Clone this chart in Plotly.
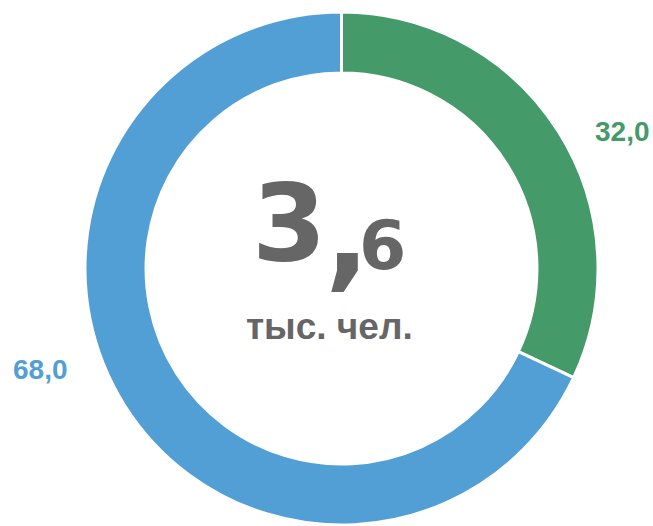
import plotly.graph_objects as go

categories = ["Группа 1", "Группа 2"]
values = [32.0, 68.0]
colors = ["#449a68", "#529fd6"]
value_labels = ["32,0", "68,0"]
total_int = "3"
total_dec = ",6"
unit_label = "тыс. чел."

W, H = 653, 526

fig = go.Figure()
fig.add_trace(go.Pie(
    labels=categories,
    values=values,
    hole=0.762,
    sort=False,
    direction="clockwise",
    rotation=0,
    marker=dict(colors=colors, line=dict(color="white", width=3)),
    textinfo="none",
    hoverinfo="label+value",
    showlegend=False,
    domain=dict(x=[85 / W, 598 / W], y=[1 / H, 514 / H]),
))

gray = "#666666"
anns = [
    dict(text="<b>" + total_int + "</b>", x=289 / W, y=1 - 287 / H, xanchor="center", yanchor="bottom",
         font=dict(family="DejaVu Sans", size=107, color=gray)),
    dict(text="<b>" + total_dec[0] + "</b>", x=347 / W, y=1 - 305 / H, xanchor="center", yanchor="bottom",
         font=dict(family="DejaVu Sans", size=118, color=gray)),
    dict(text="<b>" + total_dec[1:] + "</b>", x=382 / W, y=1 - 287 / H, xanchor="center", yanchor="bottom",
         font=dict(family="DejaVu Sans", size=68, color=gray)),
    dict(text="<b>" + unit_label + "</b>", x=329 / W, y=1 - 326 / H, xanchor="center", yanchor="middle",
         font=dict(family="Liberation Sans", size=37, color=gray)),
    dict(text="<b>" + value_labels[0] + "</b>", x=622 / W, y=1 - 132 / H, xanchor="center", yanchor="middle",
         font=dict(family="Liberation Sans", size=28, color=colors[0])),
    dict(text="<b>" + value_labels[1] + "</b>", x=40 / W, y=1 - 369 / H, xanchor="center", yanchor="middle",
         font=dict(family="Liberation Sans", size=28, color=colors[1])),
]
for a in anns:
    a.update(xref="paper", yref="paper", showarrow=False)

fig.update_layout(
    width=W, height=H,
    margin=dict(l=0, r=0, t=0, b=0),
    paper_bgcolor="white", plot_bgcolor="white",
    annotations=anns,
)
fig.write_html("out.html", config={"displayModeBar": False},
               post_script="document.body.style.margin='0';document.body.style.overflow='hidden';")
